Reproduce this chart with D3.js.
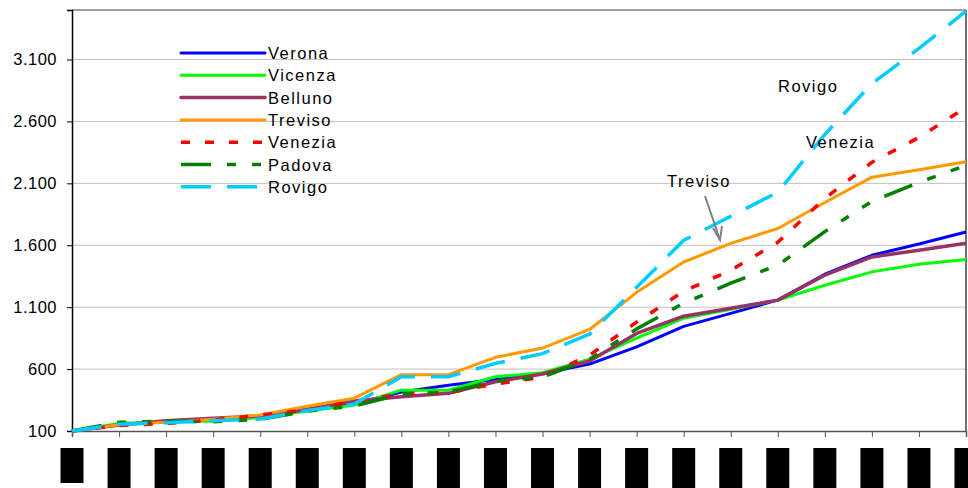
<html>
  <head>
    <script src="https://cdn.jsdelivr.net/npm/d3@7"></script>
    <style>
      body { margin: 0; background: #fff; }
      text { font-family: "Liberation Sans", Arial, sans-serif; }
    </style>
  </head>
  <body>
    <svg id="container" height="488" width="968"></svg>
  </body>
  <script>
    // categories (the labels under the axis are unreadable black blocks)
    const categories = d3.range(1, 21).map(String);
    const yTicks = [100, 600, 1100, 1600, 2100, 2600, 3100];

    const verona  = [100, 150, 175, 190, 215, 265, 320, 415, 470, 515, 565, 640, 780, 945, 1050, 1157, 1366, 1519, 1610, 1707];
    const vicenza = [100, 160, 175, 180, 210, 262, 310, 430, 430, 538, 570, 680, 850, 1011, 1084, 1157, 1277, 1385, 1447, 1485];
    const belluno = [100, 148, 183, 202, 221, 275, 342, 377, 404, 498, 560, 665, 888, 1027, 1092, 1157, 1358, 1506, 1560, 1616];
    const treviso = [100, 150, 170, 195, 230, 300, 365, 555, 555, 695, 770, 920, 1220, 1465, 1615, 1735, 1945, 2150, 2210, 2275];
    const venezia = [100, 145, 160, 189, 229, 269, 340, 400, 410, 480, 535, 713, 979, 1229, 1398, 1624, 1979, 2270, 2471, 2713];
    const padova  = [100, 170, 180, 175, 194, 260, 302, 398, 415, 503, 535, 680, 925, 1132, 1294, 1439, 1710, 1955, 2108, 2245];
    const rovigo  = [100, 155, 167, 183, 197, 265, 318, 538, 538, 646, 725, 882, 1260, 1640, 1834, 2028, 2495, 2905, 3190, 3490];

    const series = [
      { name: "Verona",  values: verona,  color: "#0000ff", width: 3,   dash: null },
      { name: "Vicenza", values: vicenza, color: "#00ff00", width: 3,   dash: null },
      { name: "Belluno", values: belluno, color: "#993366", width: 3.5, dash: null },
      { name: "Treviso", values: treviso, color: "#ff9900", width: 3,   dash: null },
      { name: "Venezia", values: venezia, color: "#ff0000", width: 3.5, dash: "9,15" },
      { name: "Padova",  values: padova,  color: "#008000", width: 3.5, dash: "30,16,9,16,9,16" },
      { name: "Rovigo",  values: rovigo,  color: "#00ccff", width: 3.5, dash: "30,16" }
    ];

    const plotLeft = 72, plotRight = 966, plotTop = 10, plotBottom = 431;
    const svg = d3.select("#container");

    const x = d3.scalePoint().domain(categories).range([plotLeft, plotRight]);
    const y = d3.scaleLinear().domain([100, 3500]).range([plotBottom, plotTop]);

    // gridlines
    svg.append("g")
      .selectAll("line")
      .data(yTicks.slice(1))
      .enter()
      .append("line")
      .attr("x1", plotLeft).attr("x2", plotRight)
      .attr("y1", d => y(d)).attr("y2", d => y(d))
      .attr("stroke", "#c0c0c0")
      .attr("stroke-width", 1);

    // plot frame (top + right)
    svg.append("line").attr("x1", plotLeft).attr("x2", plotRight).attr("y1", plotTop).attr("y2", plotTop)
      .attr("stroke", "#808080").attr("stroke-width", 1.5);
    svg.append("line").attr("x1", plotRight).attr("x2", plotRight).attr("y1", plotTop).attr("y2", plotBottom)
      .attr("stroke", "#404040").attr("stroke-width", 1.5);

    // y axis
    const yAxis = svg.append("g")
      .attr("transform", `translate(${plotLeft},0)`)
      .call(d3.axisLeft(y).tickValues(yTicks).tickSize(5).tickPadding(10)
        .tickFormat(d => d3.format(",")(d).replace(/,/g, ".")));
    yAxis.select(".domain").attr("stroke", "#000").attr("stroke-width", 1.5);
    yAxis.selectAll(".tick line").attr("stroke", "#000");
    yAxis.selectAll("text").attr("font-size", 16.5).attr("fill", "#000")
      .attr("letter-spacing", 0.5)
      .attr("font-family", "'Liberation Sans', Arial, sans-serif");

    // x axis
    const xAxis = svg.append("g")
      .attr("transform", `translate(0,${plotBottom})`)
      .call(d3.axisBottom(x).tickSize(6).tickFormat(""));
    xAxis.select(".domain").attr("stroke", "#555").attr("stroke-width", 1.5);
    xAxis.selectAll(".tick line").attr("stroke", "#555");

    // category labels render as solid black blocks
    svg.append("g")
      .selectAll("rect")
      .data(categories)
      .enter()
      .append("rect")
      .attr("x", d => x(d) - 11.5)
      .attr("y", 448)
      .attr("width", 23)
      .attr("height", (d, i) => i === 0 ? 35 : 40)
      .attr("fill", "#000");

    // lines
    const line = d3.line()
      .x((d, i) => x(categories[i]))
      .y(d => y(d));

    svg.append("g")
      .selectAll("path")
      .data(series)
      .enter()
      .append("path")
      .attr("d", d => line(d.values))
      .attr("fill", "none")
      .attr("stroke", d => d.color)
      .attr("stroke-width", d => d.width)
      .attr("stroke-dasharray", d => d.dash)
      .attr("stroke-linejoin", "round");

    // legend
    const legend = svg.append("g").selectAll("g")
      .data(series)
      .enter()
      .append("g")
      .attr("transform", (d, i) => `translate(180,${53 + i * 22.3})`);
    legend.append("line")
      .attr("x1", 1).attr("x2", 85)
      .attr("stroke", d => d.color)
      .attr("stroke-width", d => d.width)
      .attr("stroke-dasharray", d => d.dash)
      .attr("stroke-linecap", d => d.dash ? "butt" : "round");
    legend.append("text")
      .attr("x", 88).attr("y", 6)
      .attr("font-size", 16.5)
      .attr("letter-spacing", 1.5)
      .text(d => d.name);

    // annotations
    const note = (tx, ty, label) => svg.append("text")
      .attr("x", tx).attr("y", ty)
      .attr("font-size", 16.5)
      .attr("letter-spacing", 1.5)
      .text(label);
    note(778, 92, "Rovigo");
    note(806, 148, "Venezia");
    note(667, 187, "Treviso");

    const arrow = svg.append("g").attr("stroke", "#808080").attr("stroke-width", 2).attr("fill", "none");
    arrow.append("line").attr("x1", 705).attr("y1", 196).attr("x2", 720).attr("y2", 240);
    arrow.append("path").attr("d", "M713,228 L720,240 L722,226");
  </script>
</html>
